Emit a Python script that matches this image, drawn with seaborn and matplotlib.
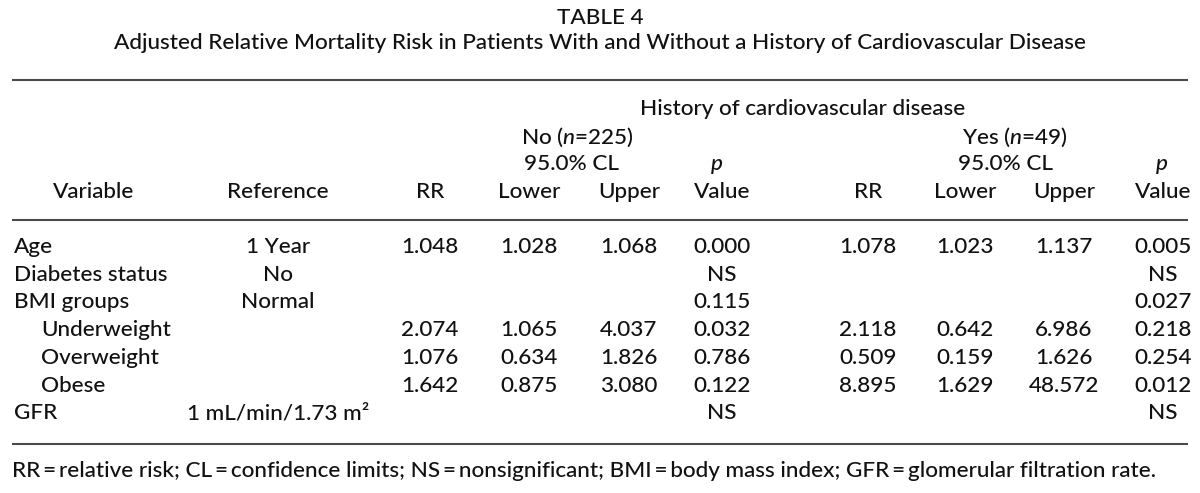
import numpy as np
import pandas as pd
import matplotlib
matplotlib.use("Agg")
import matplotlib.pyplot as plt
import seaborn as sns

# table content
title = "TABLE 4"
subtitle = "Adjusted Relative Mortality Risk in Patients With and Without a History of Cardiovascular Disease"
variables = ["Age", "Diabetes status", "BMI groups", "Underweight", "Overweight", "Obese", "GFR"]
indented = [False, False, False, True, True, True, False]
references = ["1 Year", "No", "Normal", "", "", "", "1 mL/min/1.73 m²"]
no_rr = ["1.048", "", "", "2.074", "1.076", "1.642", ""]
no_lower = ["1.028", "", "", "1.065", "0.634", "0.875", ""]
no_upper = ["1.068", "", "", "4.037", "1.826", "3.080", ""]
no_p = ["0.000", "NS", "0.115", "0.032", "0.786", "0.122", "NS"]
yes_rr = ["1.078", "", "", "2.118", "0.509", "8.895", ""]
yes_lower = ["1.023", "", "", "0.642", "0.159", "1.629", ""]
yes_upper = ["1.137", "", "", "6.986", "1.626", "48.572", ""]
yes_p = ["0.005", "NS", "0.027", "0.218", "0.254", "0.012", "NS"]
col_heads = ["Variable", "Reference", "RR", "Lower", "Upper", "Value",
             "RR", "Lower", "Upper", "Value"]
footnote = ("RR\u2009=\u2009relative risk; CL\u2009=\u2009confidence limits; "
            "NS\u2009=\u2009nonsignificant; BMI\u2009=\u2009body mass index; "
            "GFR\u2009=\u2009glomerular filtration rate.")

df = pd.DataFrame({"ref": references, "rr0": no_rr, "lo0": no_lower, "up0": no_upper,
                   "p0": no_p, "rr1": yes_rr, "lo1": yes_lower, "up1": yes_upper,
                   "p1": yes_p})

sns.set_theme(style="white")
plt.rcParams["font.family"] = ["Lato", "DejaVu Sans"]
plt.rcParams["font.weight"] = "medium"
plt.rcParams["mathtext.fontset"] = "custom"
plt.rcParams["mathtext.rm"] = "Lato:medium"
plt.rcParams["mathtext.it"] = "Lato:italic:medium"

ink = "#111111"
fs = 16.2

fig = plt.figure(figsize=(12, 4.93), dpi=100)
ax = fig.add_axes([0, 0, 1, 1])
ax.set_xlim(0, 1200)
ax.set_ylim(493, 0)
ax.axis("off")

def txt(x, y, s, ha="center", **kw):
    ax.text(x, y, s, ha=ha, va="center", color=ink, fontsize=kw.pop("size", fs), **kw)

txt(600, 18, title)
txt(600, 43, subtitle)

ax.hlines([80, 220, 444], 12, 1188, color="#4a4a4a", lw=1.5)

# spanning headers
txt(803, 109, "History of cardiovascular disease")
txt(577, 137, r"No ($\mathit{n}$=225)")
txt(571, 164, "95.0% CL")
txt(1015, 137, r"Yes ($\mathit{n}$=49)")
txt(1006, 164, "95.0% CL")
txt(717, 166, r"$\mathit{p}$")
txt(1162, 166, r"$\mathit{p}$")

col_x = [94, 278, 430, 529, 629, 722, 868, 965, 1064, 1163]
for x, h in zip(col_x, col_heads):
    txt(x, 192, h)

row_y = 247 + 27.7 * np.arange(len(variables))
for y, v, ind in zip(row_y, variables, indented):
    txt(41 if ind else 14, y, v, ha="left")
for x, col in zip(col_x[1:], df.columns):
    for y, s in zip(row_y, df[col]):
        if s:
            txt(x, y, s)

txt(12, 471, footnote, ha="left")

fig.savefig("out.png", dpi=100, facecolor="white")
